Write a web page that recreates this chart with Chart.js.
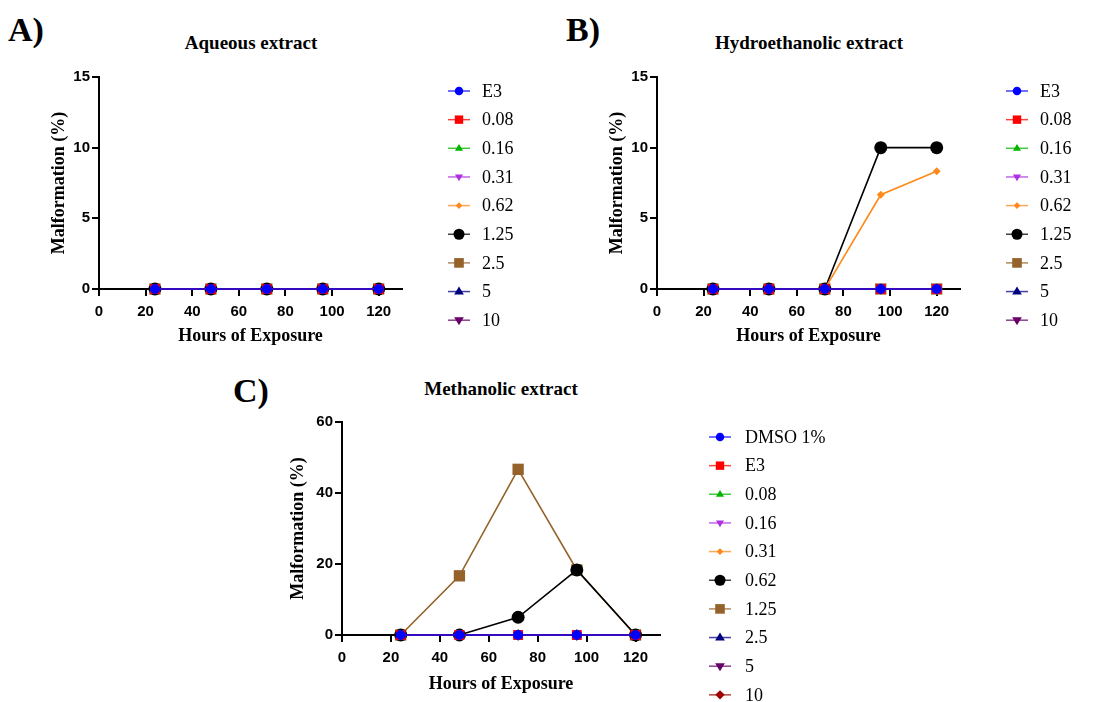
<!DOCTYPE html>
<html><head><meta charset="utf-8">
<script src="https://cdn.jsdelivr.net/npm/chart.js@4.4.1/dist/chart.umd.min.js"></script>
<style>
body{margin:0;background:#fff;width:1100px;height:702px;position:relative;overflow:hidden}
canvas{position:absolute}
.t{position:absolute;font-family:'Liberation Serif','Times New Roman',serif;font-weight:bold;color:#000;white-space:nowrap;line-height:1;transform:translate(-50%,-50%)}
.l{position:absolute;font-family:'Liberation Serif','Times New Roman',serif;font-weight:bold;color:#000;white-space:nowrap;line-height:1;font-size:34px;transform:translateY(-50%)}
</style></head><body>
<div class="l" style="left:8px;top:30px">A)</div>
<div class="l" style="left:566px;top:30px">B)</div>
<div class="l" style="left:233px;top:391px">C)</div>
<div class="t" style="left:251px;top:42px;font-size:19px">Aqueous extract</div>
<div class="t" style="left:809px;top:42px;font-size:19px">Hydroethanolic extract</div>
<div class="t" style="left:501px;top:388px;font-size:19px">Methanolic extract</div>
<canvas id="cA" width="558" height="350" style="left:0;top:0"></canvas>
<canvas id="cB" width="542" height="350" style="left:558px;top:0"></canvas>
<canvas id="cC" width="660" height="342" style="left:220px;top:360px"></canvas>
<script>
// ---- data ----
const hours = [24, 48, 72, 96, 120];
const xTitle = 'Hours of Exposure';
const yTitle = 'Malformation (%)';

const aqueousLabels = ['E3', '0.08', '0.16', '0.31', '0.62', '1.25', '2.5', '5', '10'];
const aqueousSeries = [
  [0, 0, 0, 0, 0],
  [0, 0, 0, 0, 0],
  [0, 0, 0, 0, 0],
  [0, 0, 0, 0, 0],
  [0, 0, 0, 0, 0],
  [0, 0, 0, 0, 0],
  [0, 0, 0, 0, 0],
  [0, 0, 0, 0, 0],
  [0, 0, 0, 0, 0]
];

const hydroLabels = ['E3', '0.08', '0.16', '0.31', '0.62', '1.25', '2.5', '5', '10'];
const hydroSeries = [
  [0, 0, 0, 0, 0],
  [0, 0, 0, 0, 0],
  [0, 0, 0, 0, 0],
  [0, 0, 0, 0, 0],
  [0, 0, 0, 6.67, 8.33],
  [0, 0, 0, 10, 10],
  [0, 0, 0, 0, 0],
  [0, 0, 0, 0, 0],
  [0, 0, 0, 0, 0]
];

const methLabels = ['DMSO 1%', 'E3', '0.08', '0.16', '0.31', '0.62', '1.25', '2.5', '5', '10'];
const methSeries = [
  [0, 0, 0, 0, 0],
  [0, 0, 0, 0, 0],
  [0, 0, 0, 0, 0],
  [0, 0, 0, 0, 0],
  [0, 0, 0, 0, 0],
  [0, 0, 5, 18.33, 0],
  [0, 16.67, 46.67, 18.33, 0],
  [0, 0, 0, 0, 0],
  [0, 0, 0, 0, 0],
  [0, 0, 0, 0, 0]
];

// ---- styles ----
const styleList = [
  {c:'#0000FF', s:'circle', r:5, rot:0},
  {c:'#FF0000', s:'rect', r:7, rot:0},
  {c:'#00B400', s:'triangle', r:5, rot:0},
  {c:'#B030E0', s:'triangle', r:5, rot:180},
  {c:'#FF8A1C', s:'rectRot', r:4, rot:0},
  {c:'#000000', s:'circle', r:6.5, rot:0},
  {c:'#94622A', s:'rect', r:8, rot:0},
  {c:'#000080', s:'triangle', r:6, rot:0},
  {c:'#660066', s:'triangle', r:6, rot:180},
  {c:'#A00000', s:'rectRot', r:5.5, rot:0}
];
const aqueousStyles = styleList.slice(0, 9);
const hydroStyles = styleList.slice(0, 9);
const methStyles = styleList.slice(0, 10);

function drawMarker(ctx, st, x, y, scale) {
  const r = st.r * scale;
  ctx.save();
  ctx.fillStyle = st.c;
  ctx.beginPath();
  if (st.s === 'circle') {
    ctx.arc(x, y, r, 0, Math.PI * 2);
  } else if (st.s === 'rect') {
    const h = r / Math.SQRT2;
    ctx.rect(x - h, y - h, 2 * h, 2 * h);
  } else if (st.s === 'rectRot') {
    ctx.moveTo(x, y - r); ctx.lineTo(x + r, y); ctx.lineTo(x, y + r); ctx.lineTo(x - r, y);
  } else if (st.s === 'triangle') {
    const d = st.rot === 180 ? -1 : 1;
    ctx.moveTo(x, y - d * r);
    ctx.lineTo(x + r * 0.95, y + d * r * 0.6);
    ctx.lineTo(x - r * 0.95, y + d * r * 0.6);
  }
  ctx.closePath();
  ctx.fill();
  ctx.restore();
}

const legendPlugin = {
  id: 'sideLegend',
  afterDraw(chart, args, opts) {
    const ctx = chart.ctx;
    const n = opts.labels.length;
    ctx.save();
    for (let i = 0; i < n; i++) {
      const y = opts.y0 + i * opts.dy;
      const st = opts.styles[i];
      ctx.strokeStyle = st.c;
      ctx.globalAlpha = 0.75;
      ctx.lineWidth = 1.5;
      ctx.beginPath();
      ctx.moveTo(opts.x - 11, y);
      ctx.lineTo(opts.x + 11, y);
      ctx.stroke();
      ctx.globalAlpha = 1;
      drawMarker(ctx, st, opts.x, y, 0.85);
      ctx.fillStyle = '#000';
      ctx.font = "18px 'Liberation Serif', 'Times New Roman', serif";
      ctx.textAlign = 'left';
      ctx.textBaseline = 'middle';
      ctx.fillText(opts.labels[i], opts.tx, y + 1);
    }
    ctx.restore();
  }
};

function makeChart(id, labels, series, styles, yMax, yStep, L) {
  const datasets = series.map((vals, i) => ({
    label: labels[i],
    data: hours.map((h, j) => ({x: h, y: vals[j]})),
    borderColor: styles[i].c,
    backgroundColor: styles[i].c,
    borderWidth: 1.6,
    pointStyle: styles[i].s,
    pointRadius: styles[i].r,
    pointRotation: styles[i].rot,
    pointBorderWidth: 0,
    pointHoverRadius: styles[i].r,
    tension: 0,
    clip: false
  }));
  const tickFont = {family: "'Liberation Sans', Arial, sans-serif", size: 15, weight: 'bold'};
  const titleFont = {family: "'Liberation Serif', 'Times New Roman', serif", size: 18, weight: 'bold'};
  return new Chart(document.getElementById(id), {
    type: 'line',
    data: {datasets},
    plugins: [legendPlugin],
    options: {
      responsive: false,
      animation: false,
      events: [],
      layout: {padding: L.pad},
      plugins: {
        legend: {display: false},
        tooltip: {enabled: false},
        title: {display: false},
        sideLegend: {labels, styles, x: L.lx, tx: L.tx, y0: L.ly, dy: L.dy}
      },
      scales: {
        x: {
          type: 'linear', min: 0, max: 130,
          afterFit(s) { s.height = L.xh; },
          ticks: {stepSize: 20, includeBounds: false, color: '#000', font: tickFont, padding: 7, maxRotation: 0},
          grid: {drawOnChartArea: false, drawTicks: true, tickLength: 7, color: '#000', lineWidth: 2},
          border: {display: true, color: '#000', width: 2},
          title: {display: true, text: xTitle, color: '#000', font: titleFont, padding: {top: 4, bottom: 3}}
        },
        y: {
          type: 'linear', min: 0, max: yMax,
          afterFit(s) { s.width = L.yw; },
          ticks: {stepSize: yStep, color: '#000', font: tickFont, padding: 2},
          grid: {drawOnChartArea: false, drawTicks: true, tickLength: 7, color: '#000', lineWidth: 2},
          border: {display: true, color: '#000', width: 2},
          title: {display: true, text: yTitle, color: '#000', font: titleFont, padding: {top: 2, bottom: 4}}
        }
      }
    }
  });
}

makeChart('cA', aqueousLabels, aqueousSeries, aqueousStyles, 15, 5,
  {pad: {left: 47, top: 77, right: 156, bottom: 0}, yw: 52, xh: 61, lx: 459, tx: 482, ly: 91, dy: 28.65});
makeChart('cB', hydroLabels, hydroSeries, hydroStyles, 15, 5,
  {pad: {left: 47, top: 77, right: 140, bottom: 0}, yw: 52, xh: 61, lx: 459, tx: 482, ly: 91, dy: 28.65});
makeChart('cC', methLabels, methSeries, methStyles, 60, 20,
  {pad: {left: 66, top: 62, right: 220, bottom: 4}, yw: 56, xh: 63, lx: 500, tx: 525, ly: 77, dy: 28.65});
</script>
</body></html>
